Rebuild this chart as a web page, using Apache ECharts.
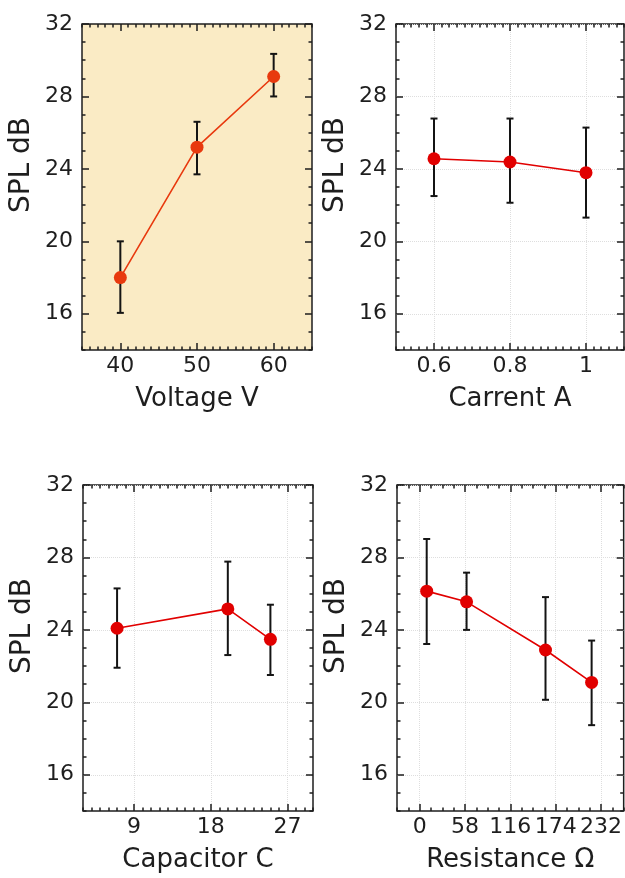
<!DOCTYPE html>
<html><head><meta charset="utf-8">
<script src="https://cdn.jsdelivr.net/npm/echarts@6/dist/echarts.min.js"></script>
<style>html,body{margin:0;padding:0;background:#fff}#c{width:625px;height:878px}</style>
</head><body><div id="c"></div>
<script>
// ---- data ----
const yTicks = [16, 20, 24, 28, 32];

const voltageX = [40, 50, 60];
const voltageY = [18.0, 25.2, 29.1];
const voltageLow = [16.05, 23.7, 28.0];
const voltageHigh = [20.0, 26.6, 30.35];
const voltageTicks = [40, 50, 60];

const currentX = [0.6, 0.8, 1.0];
const currentY = [24.56, 24.38, 23.79];
const currentLow = [22.5, 22.13, 21.31];
const currentHigh = [26.78, 26.78, 26.28];
const currentTicks = [0.6, 0.8, 1];

const capX = [7, 20, 25];
const capY = [24.09, 25.16, 23.48];
const capLow = [21.91, 22.61, 21.51];
const capHigh = [26.29, 27.77, 25.39];
const capTicks = [9, 18, 27];

const resX = [9, 60, 161, 220];
const resY = [26.14, 25.55, 22.89, 21.1];
const resLow = [23.22, 24.0, 20.14, 18.74];
const resHigh = [29.02, 27.16, 25.81, 23.41];
const resTicks = [0, 58, 116, 174, 232];

// ---- layout ----
const FONT = 'DejaVu Sans';
const INK = '#1e1e1e';
const panels = [
  {grid: {left: 82, top: 24, width: 230, height: 326}, bg: '#FAEBC5', xMin: 35, xMax: 65, xMinor: 1, xTicks: voltageTicks,
   xName: 'Voltage V', color: '#E8390E', x: voltageX, y: voltageY, lo: voltageLow, hi: voltageHigh, grid_lines: false},
  {grid: {left: 396, top: 24, width: 228, height: 326}, bg: 'transparent', xMin: 0.5, xMax: 1.1, xMinor: 0.02, xTicks: currentTicks,
   xName: 'Carrent A', color: '#E10000', x: currentX, y: currentY, lo: currentLow, hi: currentHigh, grid_lines: true},
  {grid: {left: 83, top: 485, width: 230, height: 326}, bg: 'transparent', xMin: 3, xMax: 30, xMinor: 1, xTicks: capTicks,
   xName: 'Capacitor C', color: '#E10000', x: capX, y: capY, lo: capLow, hi: capHigh, grid_lines: true},
  {grid: {left: 397, top: 485, width: 227, height: 326}, bg: 'transparent', xMin: -29, xMax: 261, xMinor: 14.5, xTicks: resTicks,
   xName: 'Resistance Ω', color: '#E10000', x: resX, y: resY, lo: resLow, hi: resHigh, grid_lines: true}
];
const yMin = 14, yMax = 32, yMinor = 1;

function steps(a, b, s) {
  const out = [];
  for (let i = 0; a + i * s <= b + 1e-9; i++) out.push(+(a + i * s).toFixed(6));
  return out;
}

const grids = [], xAxes = [], yAxes = [], series = [];
const tickLine = {color: INK, width: 1.5};
const gridLine = {color: '#dedede', type: 'dotted', width: 1};

panels.forEach((p, i) => {
  grids.push(Object.assign({show: true, borderColor: INK, borderWidth: 1.5, backgroundColor: p.bg, containLabel: false}, p.grid));
  const xMinorVals = steps(p.xMin, p.xMax, p.xMinor);
  const yMinorVals = steps(yMin, yMax, yMinor);
  const baseX = {type: 'value', gridIndex: i, min: p.xMin, max: p.xMax, axisLine: {show: false, onZero: false},
    splitLine: {show: false}, axisLabel: {show: false}};
  const baseY = {type: 'value', gridIndex: i, min: yMin, max: yMax, axisLine: {show: false, onZero: false},
    splitLine: {show: false}, axisLabel: {show: false}};
  // bottom major (labels + name)
  xAxes.push(Object.assign({}, baseX, {
    position: 'bottom',
    axisTick: {show: true, inside: true, length: 7, customValues: p.xTicks, lineStyle: tickLine},
    axisLabel: {show: true, customValues: p.xTicks, fontSize: 22, fontFamily: FONT, color: INK, margin: 5, hideOverlap: false},
    splitLine: {show: p.grid_lines, lineStyle: gridLine},
    name: p.xName, nameLocation: 'middle', nameGap: 36,
    nameTextStyle: {fontSize: 26, fontFamily: FONT, color: INK}
  }));
  xAxes.push(Object.assign({}, baseX, {position: 'bottom',
    axisTick: {show: true, inside: true, length: 3.5, customValues: xMinorVals, lineStyle: tickLine}}));
  xAxes.push(Object.assign({}, baseX, {position: 'top',
    axisTick: {show: true, inside: true, length: 7, customValues: p.xTicks, lineStyle: tickLine}}));
  xAxes.push(Object.assign({}, baseX, {position: 'top',
    axisTick: {show: true, inside: true, length: 3.5, customValues: xMinorVals, lineStyle: tickLine}}));

  yAxes.push(Object.assign({}, baseY, {
    position: 'left',
    axisTick: {show: true, inside: true, length: 7, customValues: yTicks, lineStyle: tickLine},
    axisLabel: {show: true, customValues: yTicks, fontSize: 22, fontFamily: FONT, color: INK, margin: 9},
    splitLine: {show: p.grid_lines, lineStyle: gridLine},
    name: 'SPL dB', nameLocation: 'middle', nameGap: 46,
    nameTextStyle: {fontSize: 28, fontFamily: FONT, color: INK, padding: [0, 0, 0, 44]}
  }));
  yAxes.push(Object.assign({}, baseY, {position: 'left',
    axisTick: {show: true, inside: true, length: 3.5, customValues: yMinorVals, lineStyle: tickLine}}));
  yAxes.push(Object.assign({}, baseY, {position: 'right',
    axisTick: {show: true, inside: true, length: 7, customValues: yTicks, lineStyle: tickLine}}));
  yAxes.push(Object.assign({}, baseY, {position: 'right',
    axisTick: {show: true, inside: true, length: 3.5, customValues: yMinorVals, lineStyle: tickLine}}));

  series.push({
    type: 'custom', xAxisIndex: 4 * i, yAxisIndex: 4 * i, z: 2, silent: true,
    data: p.x.map((v, k) => [v, p.lo[k], p.hi[k]]),
    encode: {x: 0, y: [1, 2]},
    renderItem: function (params, api) {
      const x = api.value(0), lo = api.value(1), hi = api.value(2);
      const a = api.coord([x, lo]), b = api.coord([x, hi]);
      const w = 3.5;
      const st = {stroke: '#141414', lineWidth: 2};
      return {type: 'group', children: [
        {type: 'line', shape: {x1: a[0], y1: a[1], x2: b[0], y2: b[1]}, style: st},
        {type: 'line', shape: {x1: a[0] - w, y1: a[1], x2: a[0] + w, y2: a[1]}, style: st},
        {type: 'line', shape: {x1: b[0] - w, y1: b[1], x2: b[0] + w, y2: b[1]}, style: st}
      ]};
    }
  });
  series.push({
    type: 'line', xAxisIndex: 4 * i, yAxisIndex: 4 * i, z: 3, silent: true,
    data: p.x.map((v, k) => [v, p.y[k]]),
    symbol: 'circle', symbolSize: 13, showSymbol: true,
    lineStyle: {color: p.color, width: 1.6},
    itemStyle: {color: p.color}
  });
});

const chart = echarts.init(document.getElementById('c'), null, {renderer: 'canvas'});
chart.setOption({animation: false, grid: grids, xAxis: xAxes, yAxis: yAxes, series: series});
</script>
</body></html>
